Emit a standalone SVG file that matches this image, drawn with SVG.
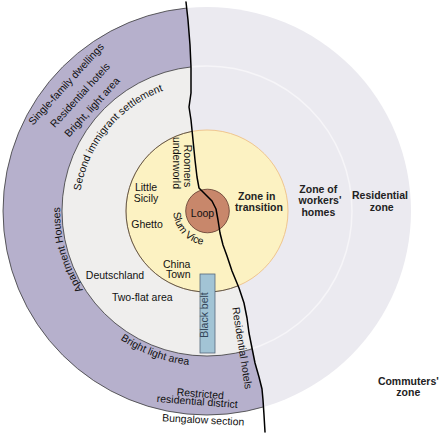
<svg xmlns="http://www.w3.org/2000/svg" width="440" height="434" viewBox="0 0 440 434">
<style>
.t{font-family:"Liberation Sans",Arial,sans-serif;font-size:10.5px;fill:#111}
.m{text-anchor:middle}
.b{font-weight:bold;fill:#222}
.edge{fill:none;stroke:#3a3a3a;stroke-width:0.8}
</style>
<defs>
<clipPath id="leftSide"><path d="M0,0 L186,0 L186,2 L188,20 L190,45 L191,67 L191,93 L189,107 L191,120 L193,140 L195,160 L197,177 L199,188 L205,194 L212,201 L216,209 L218,220 L220,233 L223,245 L227,256 L232,271 L239,288 L244,303 L247,318 L249,333 L252,348 L255,363 L259,377 L262,389 L263,400 L264,415 L265,432 L265,434 L0,434 Z"/></clipPath>
<clipPath id="rightSide"><path d="M440,0 L186,0 L186,2 L188,20 L190,45 L191,67 L191,93 L189,107 L191,120 L193,140 L195,160 L197,177 L199,188 L205,194 L212,201 L216,209 L218,220 L220,233 L223,245 L227,256 L232,271 L239,288 L244,303 L247,318 L249,333 L252,348 L255,363 L259,377 L262,389 L263,400 L264,415 L265,432 L265,434 L440,434 Z"/></clipPath>
<path id="arcSecond" d="M80.94,233.23 A128,128 0 0 1 207,83"/>
<path id="arcApt" d="M94.4,305.5 A147,147 0 0 1 62.23,185.47"/>
<path id="arcBright" d="M97.4,320.6 A155,155 0 0 0 233.92,363.65"/>
<path id="arcSlum" d="M175.55,199.37 A34,34 0 0 0 219.13,242.95"/>
</defs>
<rect width="440" height="434" fill="#ffffff"/>
<g id="zones">
<circle cx="207" cy="211" r="204" fill="#ebeaf0"/>
<g clip-path="url(#rightSide)">
<circle cx="207" cy="211" r="145" fill="none" stroke="#f6f5f8" stroke-width="1.5"/>
</g>
<g clip-path="url(#leftSide)">
<circle cx="207" cy="211" r="204" fill="#b6b0cc" stroke="#3a3a3a" stroke-width="0.8"/>
<circle cx="207" cy="211" r="145" fill="#efeeed" stroke="#3a3a3a" stroke-width="0.8"/>
</g>
</g>
<g id="zone-transition">
<circle cx="207" cy="211" r="81" fill="#fcf2c2" stroke="#f0c68e" stroke-width="1"/>
<g clip-path="url(#leftSide)"><circle cx="207" cy="211" r="81" class="edge"/></g>
</g>
<g id="loop">
<circle cx="207.5" cy="211" r="21.8" fill="#c8876b" stroke="#5e3a2e" stroke-width="0.8"/>
<text class="t m" x="202.5" y="216.5" font-size="11">Loop</text>
</g>
<g id="black-belt">
<rect x="200" y="274" width="15" height="79" fill="#a2c4d5" stroke="#56687a" stroke-width="0.8"/>
<text class="t m" transform="translate(207.8,315) rotate(-90)" y="0" font-size="10.5" style="fill:#34475a">Black belt</text>
</g>
<g id="connectors">
<path d="M186,2 L188,20 L190,45 L191,67 L191,93 L189,107 L191,120 L193,140 L195,160 L197,177 L199,188 L205,194 L212,201 L216,209 L218,220 L220,233 L223,245 L227,256 L232,271 L239,288 L244,303 L247,318 L249,333 L252,348 L255,363 L259,377 L262,389 L263,400 L264,415 L265,432" fill="none" stroke="#000" stroke-width="1.5" stroke-linejoin="round" stroke-linecap="round"/>
</g>
<g id="labels-outer-left">
<text class="t m" transform="translate(66,84) rotate(-47.7)" y="3.7">Single-family dwellings</text>
<text class="t m" transform="translate(80,95) rotate(-47.7)" y="3.7">Residential hotels</text>
<text class="t m" transform="translate(92,107) rotate(-47.7)" y="3.7">Bright, light area</text>
<text class="t m"><textPath href="#arcSecond" startOffset="110.6">Second immigrant settlement</textPath></text>
<text class="t m"><textPath href="#arcApt" startOffset="62.9">Apartment Houses</textPath></text>
<text class="t m"><textPath href="#arcBright" startOffset="66.5">Bright light area</textPath></text>
<text class="t m" transform="translate(200,397.3) rotate(4.3)">Restricted</text>
<text class="t m" transform="translate(197,405) rotate(4.3)">residential district</text>
<text class="t m" transform="translate(203,423.5) rotate(3)">Bungalow section</text>
<text class="t m" transform="translate(242.3,348) rotate(81)" y="3.7">Residential hotels</text>
</g>
<g id="labels-inner">
<text class="t m" transform="translate(188,166) rotate(90)" y="3.7" font-size="10.5">Roomers</text>
<text class="t m" transform="translate(177,163) rotate(90)" y="3.7" font-size="10.5">underworld</text>
<text class="t m" x="146" y="190.5" font-size="11">Little</text>
<text class="t m" x="146" y="201.5" font-size="11">Sicily</text>
<text class="t m" x="147" y="227.5" font-size="11">Ghetto</text>
<text class="t m"><textPath href="#arcSlum" startOffset="36.8">Slum Vice</textPath></text>
<text class="t m" x="176.7" y="267.5" font-size="11">China</text>
<text class="t m" x="178.3" y="278" font-size="11">Town</text>
<text class="t m" x="115" y="279" font-size="11">Deutschland</text>
<text class="t m" x="142.3" y="301" font-size="11">Two-flat area</text>
</g>
<g id="labels-zones">
<text class="t m b" x="256.7" y="199.5">Zone in</text>
<text class="t m b" x="259" y="211">transition</text>
<text class="t m b" x="318.3" y="192.5">Zone of</text>
<text class="t m b" x="320" y="204">workers'</text>
<text class="t m b" x="318.3" y="215.5">homes</text>
<text class="t m b" x="380" y="199.3">Residential</text>
<text class="t m b" x="381.7" y="211">zone</text>
<text class="t m b" x="408.3" y="384.7" font-size="10">Commuters'</text>
<text class="t m b" x="408.3" y="396.3" font-size="10">zone</text>
</g>
</svg>
